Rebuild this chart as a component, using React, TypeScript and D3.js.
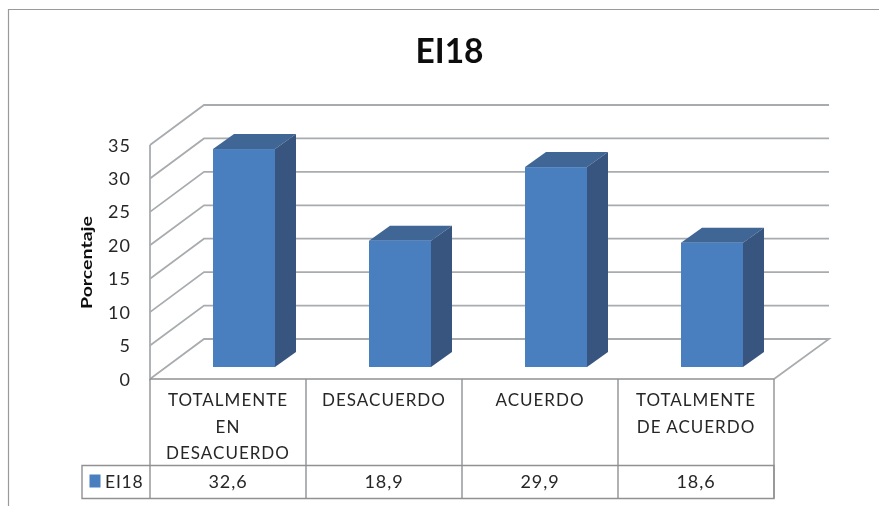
import React from "react";
import * as d3 from "d3";

const categories = [["TOTALMENTE", "EN", "DESACUERDO"], ["DESACUERDO"], ["ACUERDO"], ["TOTALMENTE", "DE ACUERDO"]];
const seriesName = "EI18";
const values = [32.6, 18.9, 29.9, 18.6];
const valueLabels = ["32,6", "18,9", "29,9", "18,6"];
const ticks = [0, 5, 10, 15, 20, 25, 30, 35];

const W = 879, H = 506;
const font = "Lato, 'Open Sans', sans-serif";
const grid = "#a9acaf";
const tableLine = "#8f9193";
const text = "#262626";

export default function App() {
  const y = d3.scaleLinear().domain([0, 35]).range([379, 145]);
  const x = d3.scaleBand<number>().domain(d3.range(values.length)).range([150, 774]);
  const barW = 62, depthX = 54, depthY = 40, barDX = 21, barDY = 15, insetDY = 12;
  const x0 = 150, x1 = 774;
  return (
    <svg width={W} height={H} style={{ position: "absolute", left: 0, top: 0, background: "#fff" }} fontFamily={font}>
      <defs>
        <filter id="soft" x="-5%" y="-5%" width="110%" height="110%">
          <feGaussianBlur stdDeviation="0.45" />
        </filter>
      </defs>
      <g filter="url(#soft)">
        <path d={`M8.5,${H}V9.5H${W}`} fill="none" stroke="#9a9a9a" strokeWidth={1.2} />
        <text x={449.5} y={62.5} textAnchor="middle" fontSize={33.5} fontWeight={700} fill="#111">{seriesName}</text>

        {/* walls */}
        {ticks.map((t) => (
          <g key={t}>
            {t > 0 && <path d={`M${x0},${y(t)}L${x0 + depthX},${y(t) - depthY}H${x1 + depthX + 1}`} fill="none" stroke={grid} strokeWidth={1.8} />}
            <text x={131} y={y(t) + 6.5} textAnchor="end" fontSize={18} letterSpacing={1} fill={text}>{t}</text>
          </g>
        ))}
        <path d={`M${x0},${y(35)}V${y(0)}L${x0 + depthX},${y(0) - depthY}H${x1 + depthX + 1}L${x1},${y(0)}`} fill="none" stroke={grid} strokeWidth={1.8} />

        {/* bars */}
        {values.map((v, i) => {
          const left = x(i)! + 63;
          const right = left + barW;
          const base = y(0) - insetDY;
          const top = base - (y(0) - y(v));
          return (
            <g key={i}>
              <path d={`M${left},${top}L${left + barDX},${top - barDY}H${right + barDX}L${right},${top}Z`} fill="#3f6695" />
              <path d={`M${right},${top}L${right + barDX},${top - barDY}V${base - barDY}L${right},${base}Z`} fill="#39557f" />
              <rect x={left} y={top} width={barW} height={base - top} fill="#4a7ebf" />
            </g>
          );
        })}

        <text transform="translate(92,262.5) rotate(-90) scale(1.26,1)" textAnchor="middle" fontSize={15.5} fontWeight={700} fill="#111">Porcentaje</text>

        {/* data table */}
        <g fill="none" stroke={tableLine} strokeWidth={1.4}>
          <path d={`M${x0},379H${x1}`} />
          <path d={`M82,465.5H${x1}V498.5H82Z`} />
          {d3.range(values.length + 1).map((i) => {
            const xx = i === values.length ? x1 : x(i)!;
            return <path key={i} d={`M${xx},379V498.5`} />;
          })}
        </g>
        {categories.map((lines, i) =>
          lines.map((l, j) => (
            <text key={l + j} x={x(i)! + x.bandwidth() / 2} y={406 + j * 26.5} textAnchor="middle" fontSize={17} letterSpacing={1} fill={text}>{l}</text>
          ))
        )}
        <rect x={89.5} y={474.5} width={11} height={13} fill="#4a7ebf" />
        <text x={105} y={488} fontSize={17.5} fill={text} letterSpacing={0.8}>{seriesName}</text>
        {valueLabels.map((l, i) => (
          <text key={l} x={x(i)! + x.bandwidth() / 2} y={488} textAnchor="middle" fontSize={18} letterSpacing={0.9} fill={text}>{l}</text>
        ))}
      </g>
    </svg>
  );
}
